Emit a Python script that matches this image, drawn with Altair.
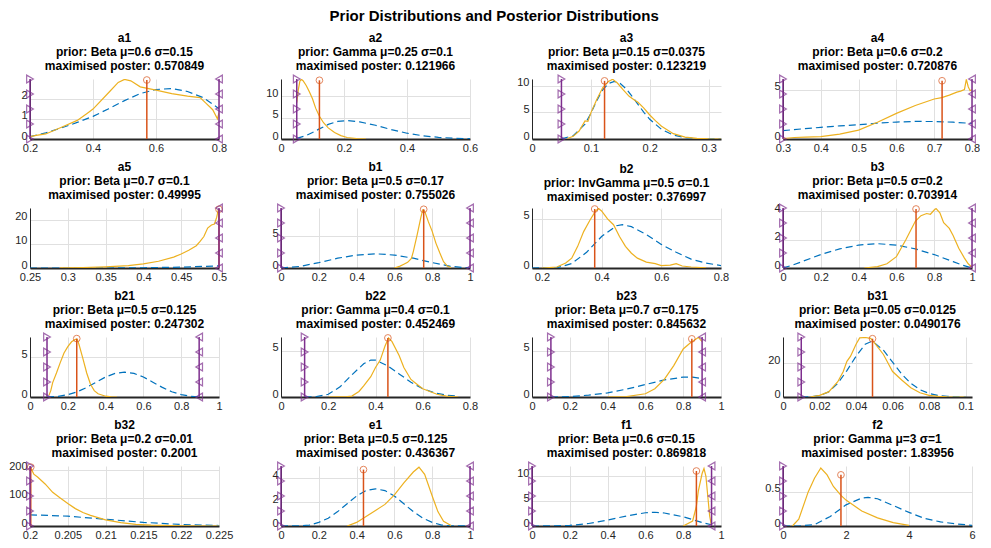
import altair as alt
import pandas as pd
import numpy as np

BLUE = "#0072BD"
ORANGE = "#EDB120"
RED = "#D95319"
PURPLE = "#7E2F8E"
FONT = "Liberation Sans"

names = ["a1", "a2", "a3", "a4", "a5", "b1", "b2", "b3",
         "b21", "b22", "b23", "b31", "b32", "e1", "f1", "f2"]
prior_text = [
    "prior: Beta μ=0.6 σ=0.15", "prior: Gamma μ=0.25 σ=0.1",
    "prior: Beta μ=0.15 σ=0.0375", "prior: Beta μ=0.6 σ=0.2",
    "prior: Beta μ=0.7 σ=0.1", "prior: Beta μ=0.5 σ=0.17",
    "prior: InvGamma μ=0.5 σ=0.1", "prior: Beta μ=0.5 σ=0.2",
    "prior: Beta μ=0.5 σ=0.125", "prior: Gamma μ=0.4 σ=0.1",
    "prior: Beta μ=0.7 σ=0.175", "prior: Beta μ=0.05 σ=0.0125",
    "prior: Beta μ=0.2 σ=0.01", "prior: Beta μ=0.5 σ=0.125",
    "prior: Beta μ=0.6 σ=0.15", "prior: Gamma μ=3 σ=1"]
mode_text = ["0.570849", "0.121966", "0.123219", "0.720876", "0.49995",
             "0.755026", "0.376997", "0.703914", "0.247302", "0.452469",
             "0.845632", "0.0490176", "0.2001", "0.436367", "0.869818", "1.83956"]
mode_values = [0.570849, 0.121966, 0.123219, 0.720876, 0.49995, 0.755026,
               0.376997, 0.703914, 0.247302, 0.452469, 0.845632, 0.0490176,
               0.2001, 0.436367, 0.869818, 1.83956]
mode_heights = [2.92, 13.7, 10.9, 5.9, 24.3, 9.3, 6.0, 4.17,
                7.3, 6.4, 6.3, 34.3, 210, 4.7, 11.0, 0.75]
y_tops = [2.97, 14.0, 11.25, 6.08, 24.8, 9.5, 6.1, 4.24,
          7.5, 6.5, 6.5, 35.3, 214, 5.0, 12.0, 0.88]
x_domains = [[0.2, 0.8], [0, 0.6], [0, 0.321], [0.3, 0.8], [0.25, 0.5], [0, 1],
             [0.167, 0.8], [0, 1], [0, 1], [0, 0.8], [0, 1], [0, 0.1035],
             [0.2, 0.225], [0, 1], [0, 1], [0, 6]]
x_ticks = [[0.2, 0.4, 0.6, 0.8], [0, 0.2, 0.4, 0.6], [0, 0.1, 0.2, 0.3],
           [0.3, 0.4, 0.5, 0.6, 0.7, 0.8], [0.25, 0.3, 0.35, 0.4, 0.45, 0.5],
           [0, 0.2, 0.4, 0.6, 0.8, 1], [0.2, 0.4, 0.6, 0.8],
           [0, 0.2, 0.4, 0.6, 0.8, 1], [0, 0.2, 0.4, 0.6, 0.8, 1],
           [0, 0.2, 0.4, 0.6, 0.8], [0, 0.2, 0.4, 0.6, 0.8, 1],
           [0, 0.02, 0.04, 0.06, 0.08, 0.1],
           [0.2, 0.205, 0.21, 0.215, 0.22, 0.225],
           [0, 0.2, 0.4, 0.6, 0.8, 1], [0, 0.2, 0.4, 0.6, 0.8, 1], [0, 2, 4, 6]]
y_ticks = [[0, 1, 2], [0, 5, 10], [0, 5, 10], [0, 5], [0, 10, 20], [0, 5],
           [0, 5], [0, 2, 4], [0, 5], [0, 5], [0, 5], [0, 20], [0, 100, 200],
           [0, 2, 4], [0, 5, 10], [0, 0.5]]
lower_bounds = [0.2, 0.05, 0.05, 0.3, None, 0, None, 0,
                0.09, 0.1, 0.1, 0.01, 0.2, 0, 0, 0]
upper_bounds = [0.8, None, None, 0.8, 0.5, 1, None, 1,
                0.895, None, 0.9, None, None, 1, 0.95, None]

# ---- prior (dashed) and posterior (solid) densities ----
a1_prior_x = [0.2, 0.25, 0.3, 0.35, 0.4, 0.45, 0.5, 0.55, 0.6, 0.65, 0.7, 0.75, 0.8]
a1_prior_y = [0.12, 0.3, 0.55, 0.82, 1.12, 1.5, 1.9, 2.25, 2.45, 2.5, 2.35, 2.05, 1.5]
a1_post_x = [0.2, 0.22, 0.25, 0.3, 0.35, 0.38, 0.4, 0.45, 0.48, 0.5, 0.52, 0.55, 0.6,
             0.65, 0.7, 0.74, 0.76, 0.78, 0.795, 0.8]
a1_post_y = [0.12, 0.18, 0.25, 0.58, 0.92, 1.25, 1.48, 2.3, 2.8, 2.95, 2.88, 2.58, 2.42,
             2.25, 2.12, 2.05, 1.75, 1.45, 1.0, 1.3]

a2_prior_x = [0.05, 0.08, 0.1, 0.12, 0.15, 0.18, 0.21, 0.25, 0.3, 0.35, 0.4, 0.45, 0.5, 0.55, 0.6]
a2_prior_y = [0.15, 0.8, 1.5, 2.3, 3.4, 4.1, 4.3, 4.0, 3.2, 2.2, 1.35, 0.75, 0.38, 0.18, 0.08]
a2_post_x = [0.05, 0.055, 0.06, 0.065, 0.07, 0.08, 0.09, 0.1, 0.11, 0.122, 0.135, 0.15,
             0.17, 0.19, 0.21, 0.24, 0.27]
a2_post_y = [8.5, 11.5, 13.5, 13.9, 13.6, 12.5, 11.0, 9.4, 7.2, 5.3, 3.8, 2.6,
             1.5, 0.8, 0.35, 0.1, 0.0]

a3_prior_x = [0.05, 0.07, 0.09, 0.1, 0.11, 0.12, 0.13, 0.14, 0.15, 0.16, 0.17, 0.18,
              0.19, 0.2, 0.22, 0.24, 0.26, 0.28, 0.321]
a3_prior_y = [0.05, 0.6, 2.8, 4.8, 7.2, 9.2, 10.4, 10.8, 10.4, 9.4, 8.0, 6.5,
              5.0, 3.7, 1.8, 0.75, 0.25, 0.07, 0.0]
a3_post_x = [0.06, 0.07, 0.08, 0.09, 0.095, 0.1, 0.11, 0.12, 0.13, 0.137, 0.145, 0.155,
             0.165, 0.175, 0.18, 0.19, 0.2, 0.21, 0.22, 0.24, 0.26, 0.28, 0.3, 0.321]
a3_post_y = [0.1, 0.5, 1.5, 3.4, 3.3, 4.9, 7.4, 9.6, 10.8, 11.2, 10.5, 9.2,
             8.0, 7.2, 6.9, 5.8, 4.5, 3.4, 2.4, 1.0, 0.35, 0.1, 0.02, 0.0]

a4_prior_x = [0.3, 0.35, 0.4, 0.45, 0.5, 0.55, 0.6, 0.65, 0.7, 0.75, 0.8]
a4_prior_y = [0.85, 1.02, 1.18, 1.33, 1.45, 1.6, 1.72, 1.78, 1.77, 1.7, 1.58]
a4_post_x = [0.3, 0.33, 0.36, 0.4, 0.45, 0.5, 0.55, 0.6, 0.65, 0.7, 0.72, 0.74, 0.76,
             0.77, 0.78, 0.785, 0.79, 0.795, 0.8]
a4_post_y = [0.05, 0.15, 0.2, 0.24, 0.5, 0.9, 1.7, 2.6, 3.4, 4.05, 4.2, 4.45, 4.75,
             4.85, 5.0, 6.05, 5.3, 4.9, 5.0]

a5_prior_x = [0.25, 0.3, 0.35, 0.4, 0.45, 0.5]
a5_prior_y = [0.0, 0.0, 0.02, 0.1, 0.35, 0.9]
a5_post_x = [0.29, 0.3, 0.32, 0.35, 0.38, 0.4, 0.42, 0.44, 0.45, 0.46, 0.47, 0.475,
             0.48, 0.485, 0.49, 0.494, 0.497, 0.499, 0.5]
a5_post_y = [0.05, 0.1, 0.2, 0.5, 1.0, 1.7, 2.8, 4.5, 5.8, 7.3, 9.2, 11.0,
             13.0, 16.5, 17.8, 18.2, 21.0, 24.0, 24.5]

b1_prior_x = [0, 0.1, 0.2, 0.3, 0.4, 0.5, 0.6, 0.7, 0.8, 0.9, 1.0]
b1_prior_y = [0, 0.25, 0.85, 1.55, 2.05, 2.25, 2.05, 1.55, 0.85, 0.25, 0]
b1_post_x = [0.6, 0.63, 0.65, 0.67, 0.69, 0.7, 0.72, 0.74, 0.75, 0.76, 0.78, 0.8,
             0.82, 0.84, 0.86, 0.88, 0.9]
b1_post_y = [0, 0.3, 0.6, 0.9, 1.5, 2.6, 5.2, 8.0, 9.2, 9.0, 7.3, 5.8,
             3.9, 2.4, 1.0, 0.3, 0.05]

b2_prior_x = [0.167, 0.25, 0.3, 0.35, 0.4, 0.45, 0.47, 0.5, 0.55, 0.6, 0.65, 0.7, 0.75, 0.8]
b2_prior_y = [0, 0.02, 0.45, 1.6, 3.2, 4.3, 4.4, 4.2, 3.4, 2.4, 1.6, 0.9, 0.5, 0.25]
b2_post_x = [0.2, 0.25, 0.28, 0.3, 0.32, 0.34, 0.36, 0.38, 0.39, 0.4, 0.42, 0.44, 0.46,
             0.48, 0.5, 0.52, 0.55, 0.58, 0.6, 0.63, 0.65, 0.67, 0.7, 0.75]
b2_post_y = [0, 0.1, 0.5, 1.0, 2.2, 3.7, 4.8, 5.8, 6.05, 5.8, 5.0, 4.4, 3.2,
             2.2, 1.5, 1.0, 0.6, 0.45, 0.25, 0.3, 0.45, 0.2, 0.1, 0.02]

b3_prior_x = [0, 0.05, 0.1, 0.2, 0.3, 0.4, 0.5, 0.6, 0.7, 0.8, 0.9, 0.95, 1.0]
b3_prior_y = [0, 0.2, 0.45, 0.95, 1.35, 1.62, 1.72, 1.62, 1.35, 0.95, 0.45, 0.2, 0]
b3_post_x = [0.43, 0.5, 0.55, 0.6, 0.65, 0.7, 0.73, 0.76, 0.78, 0.8, 0.81, 0.83, 0.85,
             0.88, 0.9, 0.93, 0.96, 0.98, 1.0]
b3_post_y = [0, 0.1, 0.3, 0.8, 2.0, 3.3, 3.7, 3.85, 3.8, 4.1, 4.2, 3.9, 3.2,
             2.8, 2.3, 1.4, 0.7, 0.3, 0.05]

b21_prior_x = [0.09, 0.15, 0.2, 0.25, 0.3, 0.35, 0.4, 0.45, 0.5, 0.55, 0.6, 0.65, 0.7,
               0.75, 0.8, 0.85, 0.895]
b21_prior_y = [0.01, 0.08, 0.3, 0.65, 1.2, 1.85, 2.5, 2.95, 3.1, 2.95, 2.5, 1.85, 1.2,
               0.65, 0.3, 0.08, 0.01]
b21_post_x = [0.1, 0.11, 0.12, 0.14, 0.16, 0.18, 0.2, 0.22, 0.24, 0.25, 0.26, 0.28,
              0.3, 0.32, 0.34, 0.36, 0.38, 0.4, 0.43, 0.46]
b21_post_y = [0.2, 0.8, 1.8, 3.0, 4.3, 5.5, 6.3, 6.9, 7.2, 7.2, 6.5, 4.8,
              3.0, 1.6, 0.8, 0.4, 0.25, 0.1, 0.02, 0]

b22_prior_x = [0.1, 0.15, 0.2, 0.25, 0.3, 0.35, 0.38, 0.4, 0.45, 0.5, 0.55, 0.6, 0.65, 0.7, 0.75]
b22_prior_y = [0.0, 0.05, 0.3, 1.1, 2.4, 3.6, 4.0, 4.0, 3.4, 2.5, 1.6, 0.9, 0.45, 0.2, 0.08]
b22_post_x = [0.2, 0.28, 0.3, 0.33, 0.35, 0.38, 0.4, 0.42, 0.44, 0.455, 0.47, 0.5, 0.52,
              0.55, 0.57, 0.6, 0.63, 0.66, 0.7, 0.75]
b22_post_y = [0, 0.05, 0.1, 0.6, 1.2, 2.2, 3.2, 4.0, 5.5, 6.4, 6.0, 4.5, 3.2,
              1.9, 1.5, 0.9, 0.6, 0.3, 0.1, 0]

b23_prior_x = [0.1, 0.2, 0.3, 0.4, 0.5, 0.6, 0.7, 0.8, 0.85, 0.9]
b23_prior_y = [0.0, 0.05, 0.2, 0.45, 0.85, 1.35, 1.85, 2.15, 2.15, 2.0]
b23_post_x = [0.4, 0.5, 0.6, 0.65, 0.7, 0.75, 0.8, 0.84, 0.87, 0.88, 0.9]
b23_post_y = [0, 0.05, 0.35, 0.9, 1.9, 3.4, 5.2, 5.9, 6.3, 6.45, 6.0]

b31_prior_x = [0.01, 0.015, 0.02, 0.025, 0.03, 0.035, 0.04, 0.045, 0.048, 0.05, 0.055,
               0.06, 0.065, 0.07, 0.075, 0.08, 0.085, 0.09, 0.1]
b31_prior_y = [0, 0.1, 0.8, 3.0, 8.0, 15.5, 24.0, 31.0, 32.5, 32.0, 27.5,
               20.5, 13.5, 8.0, 4.3, 2.1, 0.9, 0.35, 0.03]
b31_post_x = [0.015, 0.02, 0.025, 0.03, 0.033, 0.035, 0.037, 0.04, 0.042, 0.045, 0.048,
              0.05, 0.055, 0.058, 0.06, 0.065, 0.07, 0.075, 0.08, 0.085, 0.09, 0.1]
b31_post_y = [0, 1.0, 3.0, 9.0, 15.0, 21.0, 24.0, 31.0, 34.8, 35.0, 34.5,
              32.0, 25.0, 19.0, 15.0, 10.0, 5.5, 2.5, 1.0, 0.4, 0.1, 0]

b32_prior_x = [0.2, 0.205, 0.21, 0.215, 0.22, 0.225]
b32_prior_y = [40, 35, 24, 13, 5.4, 1.7]
b32_post_x = [0.2, 0.2005, 0.201, 0.202, 0.203, 0.204, 0.205, 0.206, 0.207, 0.208,
              0.21, 0.212, 0.214, 0.216, 0.22, 0.225]
b32_post_y = [213, 185, 175, 150, 120, 100, 80, 62, 48, 38,
              22, 12, 6, 3, 0.5, 0]

e1_prior_x = [0, 0.1, 0.15, 0.2, 0.25, 0.3, 0.35, 0.4, 0.45, 0.5, 0.55, 0.6, 0.65,
              0.7, 0.75, 0.8, 0.85, 0.9, 1.0]
e1_prior_y = [0, 0.01, 0.08, 0.3, 0.65, 1.2, 1.85, 2.5, 2.95, 3.1, 2.95, 2.5, 1.85,
              1.2, 0.65, 0.3, 0.08, 0.01, 0]
e1_post_x = [0.35, 0.4, 0.45, 0.5, 0.55, 0.6, 0.65, 0.7, 0.73, 0.76, 0.8, 0.83, 0.86, 0.9]
e1_post_y = [0, 0.3, 0.8, 1.3, 1.8, 2.6, 3.6, 4.5, 4.9, 4.3, 2.5, 1.2, 0.4, 0.05]

f1_prior_x = [0, 0.1, 0.2, 0.3, 0.4, 0.5, 0.6, 0.65, 0.7, 0.8, 0.9, 0.95]
f1_prior_y = [0, 0.01, 0.12, 0.5, 1.2, 2.0, 2.65, 2.75, 2.6, 1.85, 0.7, 0.25]
f1_post_x = [0.8, 0.85, 0.87, 0.88, 0.9, 0.91, 0.92, 0.93, 0.94, 0.95]
f1_post_y = [0, 1.0, 4.0, 7.0, 10.5, 11.5, 10.0, 6.0, 2.0, 0]

f2_prior_x = [0, 0.5, 1, 1.5, 2, 2.5, 2.7, 3, 3.5, 4, 4.5, 5, 5.5, 6]
f2_prior_y = [0, 0.0, 0.02, 0.14, 0.31, 0.41, 0.42, 0.4, 0.3, 0.2, 0.11, 0.06, 0.03, 0.01]
f2_post_x = [0.3, 0.5, 0.8, 1.0, 1.2, 1.4, 1.6, 1.84, 2.0, 2.5, 3.0, 3.5, 4.0]
f2_post_y = [0.0, 0.1, 0.5, 0.7, 0.85, 0.75, 0.58, 0.45, 0.38, 0.22, 0.12, 0.05, 0.01]

priors = {n: (globals()[n + "_prior_x"], globals()[n + "_prior_y"]) for n in names}
posts = {n: (globals()[n + "_post_x"], globals()[n + "_post_y"]) for n in names}

LABEL = "'' + datum.value"
PANEL_W = 189
PANEL_H = 60


def panel(i):
    n = names[i]
    ytop = y_tops[i]
    xs = alt.Scale(domain=x_domains[i], nice=False, zero=False)
    ys = alt.Scale(domain=[0, ytop], nice=False, zero=True)
    xax = alt.Axis(values=x_ticks[i], labelExpr=LABEL, title=None, grid=True,
                   labelOverlap=False, labelFlush=False, domainWidth=2,
                   domainColor="#262626", labelPadding=3)
    yax = alt.Axis(values=y_ticks[i], labelExpr=LABEL, title=None, grid=True,
                   labelOverlap=False, labelFlush=False, domainColor="#262626",
                   labelPadding=3, labelOffset=-3)

    def X(f="x"):
        return alt.X(f + ":Q", scale=xs, axis=xax)

    def Y(f="y"):
        return alt.Y(f + ":Q", scale=ys, axis=yax)

    px, py = priors[n]
    qx, qy = posts[n]
    prior = alt.Chart(pd.DataFrame({"x": px, "y": py})).mark_line(
        color=BLUE, strokeDash=[7, 4], strokeWidth=1.2, clip=True
    ).encode(x=X(), y=Y())
    post = alt.Chart(pd.DataFrame({"x": qx, "y": qy})).mark_line(
        color=ORANGE, strokeWidth=1.2, clip=True
    ).encode(x=X(), y=Y())

    mode_df = pd.DataFrame({"x": [mode_values[i]], "y0": [0.0], "y": [mode_heights[i]]})
    mrule = alt.Chart(mode_df).mark_rule(color=RED, strokeWidth=1.5).encode(
        x=X(), y=Y("y0"), y2="y:Q")
    mcirc = alt.Chart(mode_df).mark_point(
        shape="circle", filled=False, color=RED, size=45, strokeWidth=1
    ).encode(x=X(), y=Y())

    layers = [prior, post, mrule, mcirc]
    fracs = [0, 0.25, 0.5, 0.75, 1.0]
    for b, shp in ((lower_bounds[i], "triangle-right"), (upper_bounds[i], "triangle-left")):
        if b is None:
            continue
        tri = pd.DataFrame({"x": [b] * 5, "y": [f * ytop for f in fracs]})
        layers.append(alt.Chart(pd.DataFrame({"x": [b], "y0": [0.0], "y": [ytop]}))
                      .mark_rule(color=PURPLE, strokeWidth=1.5)
                      .encode(x=X(), y=Y("y0"), y2="y:Q"))
        layers.append(alt.Chart(tri).mark_point(
            shape=shp, filled=False, color=PURPLE, size=60, strokeWidth=1.2
        ).encode(x=X(), y=Y()))

    return alt.layer(*layers).properties(
        width=PANEL_W, height=PANEL_H,
        title=alt.TitleParams(
            text=[n, prior_text[i], "maximised poster: " + mode_text[i]],
            anchor="middle", fontSize=12, fontWeight="bold", font=FONT,
            color="#000000", lineHeight=14, offset=0),
    )


chart = alt.concat(*[panel(i) for i in range(16)], columns=4,
                   spacing={"row": 69, "column": 62}, bounds="flush").properties(
    title=alt.TitleParams(
        text="Prior Distributions and Posterior Distributions",
        anchor="middle", fontSize=15, fontWeight="bold", font=FONT,
        color="#000000", offset=8),
    padding={"left": 0, "top": 0, "right": 0, "bottom": 0},
).configure_axis(
    labelFont=FONT, labelFontSize=11, labelColor="#262626", ticks=False,
    gridColor="#e0e0e0", gridWidth=1,
).configure_view(stroke=None)

chart.save("out.html", embed_options={"renderer": "svg", "actions": False})
